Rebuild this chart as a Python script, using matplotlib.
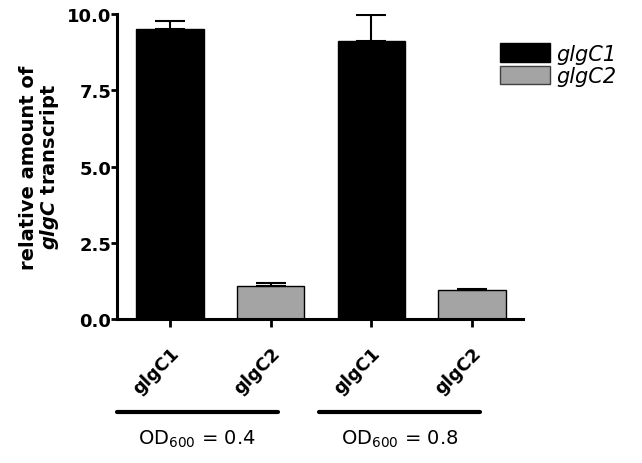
import matplotlib
matplotlib.use("Agg")
import matplotlib.pyplot as plt
from matplotlib.patches import Patch

plt.rcParams['font.family'] = ['DejaVu Sans']
plt.rcParams['mathtext.fontset'] = 'custom'
plt.rcParams['mathtext.it'] = 'DejaVu Sans:italic:bold'
plt.rcParams['mathtext.rm'] = 'DejaVu Sans'

categories = ["glgC1", "glgC2", "glgC1", "glgC2"]
values = [9.52, 1.08, 9.1, 0.95]
errors = [0.23, 0.12, 0.85, 0.05]
colors = ["#000000", "#a4a4a4", "#000000", "#a4a4a4"]
groups = ["OD$_{600}$ = 0.4", "OD$_{600}$ = 0.8"]
yticks = [0.0, 2.5, 5.0, 7.5, 10.0]
legend_labels = ["glgC1", "glgC2"]

fig = plt.figure(figsize=(6.42, 4.64), dpi=100)
ax = fig.add_axes([0.182, 0.310, 0.633, 0.658])

x = list(range(len(values)))
ax.bar(x, values, width=0.67, color=colors, edgecolor="#000000", linewidth=1.0, zorder=2)
ax.errorbar(x, values, yerr=[[0]*len(errors), errors], fmt="none", ecolor="black",
            elinewidth=1.5, capsize=10.5, capthick=1.5, zorder=3)

ax.set_xlim(-0.53, 3.51)
ax.set_ylim(0, 10)
ax.set_yticks(yticks)
ax.set_yticklabels([f"{v:.1f}" for v in yticks], fontsize=13, fontweight="bold")
ax.set_xticks(x)
ax.set_xticklabels(categories, rotation=45, ha="right", rotation_mode="anchor",
                   fontsize=13, fontweight="bold")
ax.tick_params(axis="x", pad=12, width=2, length=6)
ax.tick_params(axis="y", pad=0, width=2, length=4)

for s in ["top", "right"]:
    ax.spines[s].set_visible(False)
for s in ["left", "bottom"]:
    ax.spines[s].set_linewidth(2.2)

ax.set_ylabel("relative amount of\n$glgC$ transcript", fontsize=14,
              fontweight="bold", labelpad=4, linespacing=1.05)

# group lines and labels
line_x0 = [-0.53, 1.48]
line_x1 = [1.07, 3.08]
for gi, g in enumerate(groups):
    lx0, lx1 = line_x0[gi], line_x1[gi]
    ax.plot([lx0, lx1], [-0.305, -0.305], transform=ax.get_xaxis_transform(),
            color="black", lw=3, clip_on=False, solid_capstyle="round")
    ax.text((lx0 + lx1) / 2, -0.39, g, transform=ax.get_xaxis_transform(),
            ha="center", va="center", fontsize=14)

handles = [Patch(facecolor="#000000", edgecolor="#000000"),
           Patch(facecolor="#a4a4a4", edgecolor="#404040")]
leg = fig.legend(handles, legend_labels, loc="upper left", bbox_to_anchor=(0.75, 0.945),
                 frameon=False, prop={"style": "italic", "size": 15},
                 handlelength=2.4, handleheight=1.0, handletextpad=0.3, labelspacing=0.1)

fig.savefig("out.png", dpi=100)
